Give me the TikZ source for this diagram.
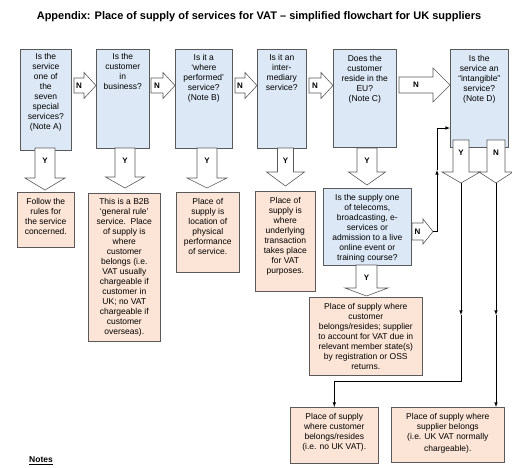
\documentclass[tikz,border=0pt]{standalone}
\usepackage{fontspec}
\setmainfont{Liberation Sans}
\usepackage{tikz}
\usetikzlibrary{arrows, positioning}
\definecolor{qblue}{RGB}{220,232,245}
\definecolor{apeach}{RGB}{252,229,214}
\definecolor{edge}{RGB}{90,90,90}
\tikzstyle{question} = [rectangle, draw=edge, fill=qblue, line width=0.6pt, inner sep=0pt, anchor=north west]
\tikzstyle{answer} = [rectangle, draw=edge, fill=apeach, line width=0.6pt, inner sep=0pt, anchor=north west]
\tikzstyle{boxtext} = [align=center, inner sep=0pt, font=\fontsize{8.5}{10}\selectfont]
\tikzstyle{blockarrow} = [draw=edge, fill=white, line width=0.6pt]
\tikzstyle{yn} = [inner sep=0pt, font=\fontsize{8}{8}\selectfont\bfseries]
\tikzstyle{link} = [semithick, ->, >=latex]
\tikzset{
  pics/rightblock/.style n args={5}{code={
    \draw[blockarrow] (0,-#2) -- ({#1-#4},-#2) -- ({#1-#4},-#3) -- (#1,0) -- ({#1-#4},#3) -- ({#1-#4},#2) -- (0,#2) -- cycle;
    \node[yn] at ({(#1-#4)/2},0) {#5};
    \coordinate (-tip) at (#1,0);
  }},
  pics/downblock/.style n args={5}{code={
    \draw[blockarrow] (-#2,0) -- (-#2,#1) -- (-#3,#1) -- (0,{#1+#4}) -- (#3,#1) -- (#2,#1) -- (#2,0) -- cycle;
    \node[yn] at (0,13) {#5};
    \coordinate (-tip) at (0,{#1+#4});
  }}
}

\begin{document}
\begin{tikzpicture}[x=1pt, y=-1pt]
    \useasboundingbox (0,0) rectangle (512,467);

    % Title
    \node (title) at (259,17) {\fontsize{11}{13}\selectfont\bfseries Appendix: Place of supply of services for VAT – simplified flowchart for UK suppliers};

    % Questions along the top
    \node (q1) [question, minimum width=51pt, minimum height=101pt] at (20,49) {};
    \node [boxtext, below=4pt of q1.north] {Is the\\service\\one of\\the\\seven\\special\\services?\\(Note A)};

    \node (q2) [question, minimum width=53pt, minimum height=99pt] at (96,49) {};
    \node [boxtext, below=4pt of q2.north] {Is the\\customer\\in\\business?};

    \node (q3) [question, minimum width=57pt, minimum height=99pt] at (175,49) {};
    \node [boxtext, below=5pt of q3.north] {Is it a\\‘where\\performed’\\service?\\(Note B)};

    \node (q4) [question, minimum width=49pt, minimum height=99pt] at (257,49) {};
    \node [boxtext, below=5pt of q4.north] {Is it an\\inter-\\mediary\\service?};

    \node (q5) [question, minimum width=63pt, minimum height=98pt] at (333,49) {};
    \node [boxtext, below=6pt of q5.north] {Does the\\customer\\reside in the\\EU?\\(Note C)};

    \node (q6) [question, minimum width=58pt, minimum height=98pt] at (450,49) {};
    \node [boxtext, below=6pt of q6.north] {Is the\\service an\\“intangible”\\service?\\(Note D)};

    \node (q7) [question, minimum width=88pt, minimum height=77pt] at (323,188) {};
    \node [boxtext, below=6pt of q7.north] {Is the supply one\\of telecoms,\\broadcasting, e-\\services or\\admission to a live\\online event or\\training course?};

    % Answers
    \node (o1) [answer, minimum width=57pt, minimum height=55pt] at (17,192) {};
    \node [boxtext, below=6pt of o1.north] {Follow the\\rules for\\the service\\concerned.};

    \node (o2) [answer, minimum width=72pt, minimum height=148pt] at (88,193) {};
    \node [boxtext, below=5pt of o2.north] {This is a B2B\\‘general rule’\\service.\ \ Place\\of supply is\\where\\customer\\belongs (i.e.\\VAT usually\\chargeable if\\customer in\\UK; no VAT\\chargeable if\\customer\\overseas).};

    \node (o3) [answer, minimum width=63pt, minimum height=80pt] at (176,192) {};
    \node [boxtext, below=6pt of o3.north] {Place of\\supply is\\location of\\physical\\performance\\of service.};

    \node (o4) [answer, minimum width=60pt, minimum height=100pt] at (255,191) {};
    \node [boxtext, below=6pt of o4.north] {Place of\\supply is\\where\\underlying\\transaction\\takes place\\for VAT\\purposes.};

    \node (o5) [answer, minimum width=113pt, minimum height=78pt] at (309,297) {};
    \node [boxtext, below=6pt of o5.north] {Place of supply where\\customer\\belongs/resides; supplier\\to account for VAT due in\\relevant member state(s)\\by registration or OSS\\returns.};

    \node (o6) [answer, minimum width=88pt, minimum height=56pt] at (290,407) {};
    \node [boxtext, below=6pt of o6.north] {Place of supply\\where customer\\belongs/resides\\(i.e. no UK VAT).};

    \node (o7) [answer, minimum width=113pt, minimum height=55pt] at (391,407) {};
    \node [boxtext, below=6pt of o7.north] {Place of supply where\\supplier belongs\\(i.e. UK VAT normally\\[2pt]chargeable).};

    % Block arrows
    \pic (n1) at (74,85.5) {rightblock={22}{7.5}{13}{12}{N}};
    \pic (n2) at (151,85.5) {rightblock={24}{7.5}{13}{12}{N}};
    \pic (n3) at (235,85.5) {rightblock={22}{7.5}{13}{12}{N}};
    \pic (n4) at (309,85.5) {rightblock={24}{7.5}{13}{12}{N}};
    \pic (n5) at (399,85) {rightblock={51}{8}{17}{17}{N}};
    \pic (n7) at (412,231.5) {rightblock={21}{8.5}{12.5}{10}{N}};

    \pic (y1) at (45,148) {downblock={30}{10}{20}{12}{Y}};
    \pic (y2) at (125,148) {downblock={29}{10}{19.5}{11}{Y}};
    \pic (y3) at (207,148) {downblock={30}{10}{20}{10}{Y}};
    \pic (y4) at (285.5,148) {downblock={24}{8}{19}{14}{Y}};
    \pic (y5) at (367,148) {downblock={24}{10}{18.5}{13}{Y}};
    \pic (y7) at (366.5,265) {downblock={23}{10.5}{21.5}{8}{Y}};
    \pic (y6) at (461,140) {downblock={32}{8}{19}{11}{Y}};
    \pic (n6) at (496,140) {downblock={32}{9}{17}{11}{N}};

    % Connectors
    \coordinate (rise) at (437,170);
    \coordinate (into6) at (450,128);
    \coordinate (ydrop) at (461,315);
    \coordinate (ndrop) at (496,315);
    \draw [link] (n7-tip) -| (rise);
    \draw [link] (rise) |- (into6);
    \draw [link] (y6-tip) -- (ydrop);
    \draw [link] (ydrop) -- ++(0,66) -| (o6.north);
    \draw [link] (n6-tip) -- (ndrop);
    \draw [link] (ndrop) -- (ndrop |- o7.north);

    % Notes
    \node (notes) at (41,461) {\fontsize{8.5}{10}\selectfont\bfseries\underline{Notes}};
\end{tikzpicture}
\end{document}
